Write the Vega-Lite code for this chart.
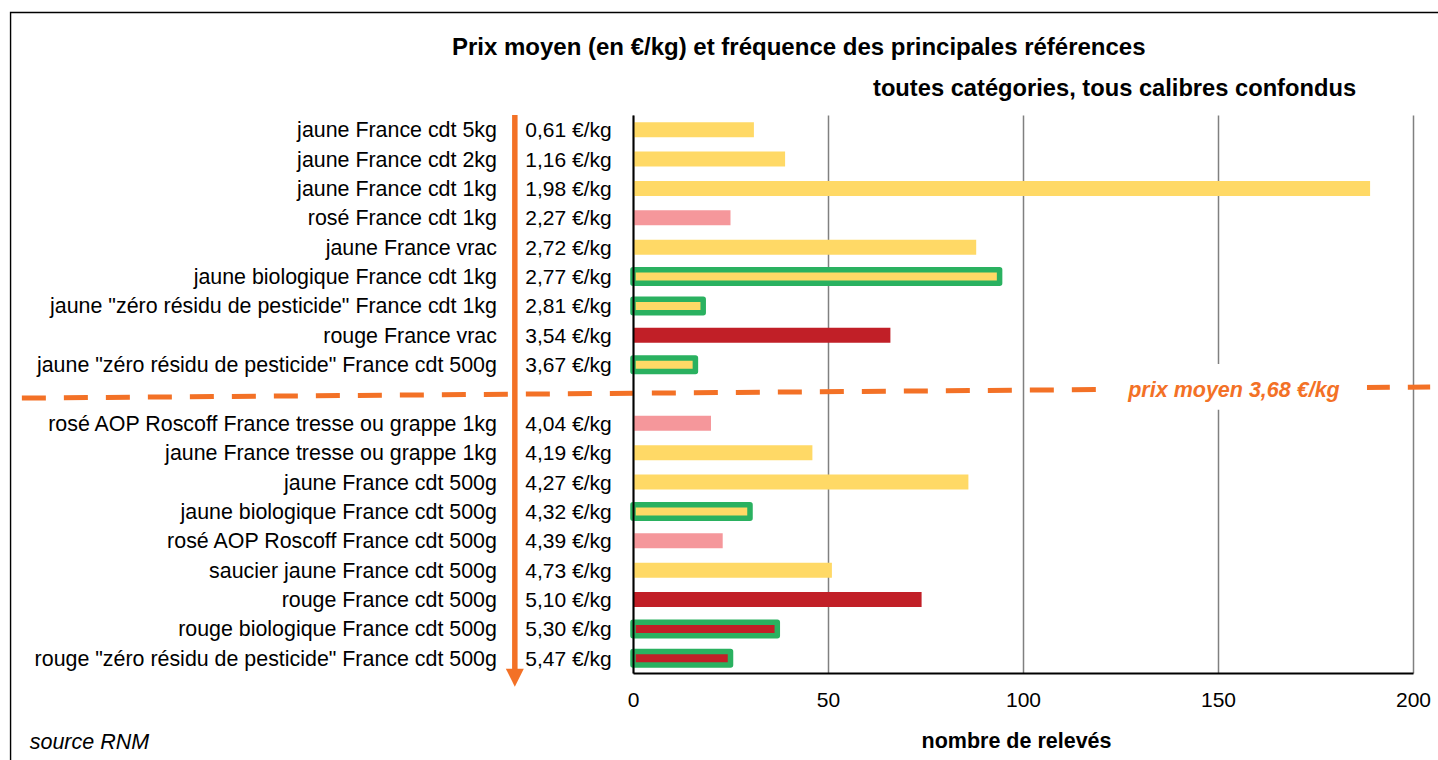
{
  "$schema": "https://vega.github.io/schema/vega-lite/v6.json",
  "autosize": "none",
  "width": 780,
  "height": 558,
  "padding": {"left": 633, "top": 115, "right": 25, "bottom": 87},
  "background": "white",
  "config": {"view": {"stroke": null}, "font": "Liberation Sans"},
  "data": {"values": [
    {"rang": 1, "libelle": "jaune France cdt 5kg", "prix": "0,61 €/kg", "releves": 31, "couleur": "jaune", "label_vert": false},
    {"rang": 2, "libelle": "jaune France cdt 2kg", "prix": "1,16 €/kg", "releves": 39, "couleur": "jaune", "label_vert": false},
    {"rang": 3, "libelle": "jaune France cdt 1kg", "prix": "1,98 €/kg", "releves": 189, "couleur": "jaune", "label_vert": false},
    {"rang": 4, "libelle": "rosé France cdt 1kg", "prix": "2,27 €/kg", "releves": 25, "couleur": "rosé", "label_vert": false},
    {"rang": 5, "libelle": "jaune France vrac", "prix": "2,72 €/kg", "releves": 88, "couleur": "jaune", "label_vert": false},
    {"rang": 6, "libelle": "jaune biologique France cdt 1kg", "prix": "2,77 €/kg", "releves": 94, "couleur": "jaune", "label_vert": true},
    {"rang": 7, "libelle": "jaune \"zéro résidu de pesticide\" France cdt 1kg", "prix": "2,81 €/kg", "releves": 18, "couleur": "jaune", "label_vert": true},
    {"rang": 8, "libelle": "rouge France vrac", "prix": "3,54 €/kg", "releves": 66, "couleur": "rouge", "label_vert": false},
    {"rang": 9, "libelle": "jaune \"zéro résidu de pesticide\" France cdt 500g", "prix": "3,67 €/kg", "releves": 16, "couleur": "jaune", "label_vert": true},
    {"rang": 11, "libelle": "rosé AOP Roscoff France tresse ou grappe 1kg", "prix": "4,04 €/kg", "releves": 20, "couleur": "rosé", "label_vert": false},
    {"rang": 12, "libelle": "jaune France tresse ou grappe 1kg", "prix": "4,19 €/kg", "releves": 46, "couleur": "jaune", "label_vert": false},
    {"rang": 13, "libelle": "jaune France cdt 500g", "prix": "4,27 €/kg", "releves": 86, "couleur": "jaune", "label_vert": false},
    {"rang": 14, "libelle": "jaune biologique France cdt 500g", "prix": "4,32 €/kg", "releves": 30, "couleur": "jaune", "label_vert": true},
    {"rang": 15, "libelle": "rosé AOP Roscoff France cdt 500g", "prix": "4,39 €/kg", "releves": 23, "couleur": "rosé", "label_vert": false},
    {"rang": 16, "libelle": "saucier jaune France cdt 500g", "prix": "4,73 €/kg", "releves": 51, "couleur": "jaune", "label_vert": false},
    {"rang": 17, "libelle": "rouge France cdt 500g", "prix": "5,10 €/kg", "releves": 74, "couleur": "rouge", "label_vert": false},
    {"rang": 18, "libelle": "rouge biologique France cdt 500g", "prix": "5,30 €/kg", "releves": 37, "couleur": "rouge", "label_vert": true},
    {"rang": 19, "libelle": "rouge \"zéro résidu de pesticide\" France cdt 500g", "prix": "5,47 €/kg", "releves": 25, "couleur": "rouge", "label_vert": true}
  ]},
  "layer": [
    {
      "data": {"values": [{}]},
      "mark": {"type": "rect", "fillOpacity": 0, "stroke": "black", "strokeWidth": 1.4, "clip": false},
      "encoding": {
        "x": {"datum": -159.6, "type": "quantitative", "scale": {"domain": [0, 200], "nice": false, "zero": true, "padding": 0},
          "axis": {"values": [0, 50, 100, 150, 200], "grid": true, "gridColor": "#808080", "gridWidth": 1.5,
            "domain": true, "domainColor": "black", "domainWidth": 2, "ticks": false, "tickSize": 0,
            "labelFontSize": 21, "labelColor": "black", "labelPadding": 33, "labelBaseline": "alphabetic",
            "labelFlush": false, "labelOverlap": false, "format": "d",
            "title": "nombre de relevés", "titleFontSize": 21.5, "titleFontWeight": "bold", "titleColor": "black",
            "titleX": 383, "titleY": 74, "titleBaseline": "alphabetic", "titleAnchor": "middle", "zindex": 0}},
        "x2": {"datum": 208.2},
        "y": {"datum": -2.99, "type": "quantitative", "scale": {"domain": [0.5, 19.5], "reverse": true, "nice": false, "zero": false, "padding": 0},
          "axis": {"domain": true, "domainColor": "black", "domainWidth": 2, "labels": false, "ticks": false, "grid": false, "title": null, "zindex": 1}},
        "y2": {"datum": 23}
      }
    },
    {
      "transform": [{"filter": "!datum.label_vert"}],
      "mark": {"type": "bar", "orient": "horizontal", "size": 15},
      "encoding": {
        "x": {"field": "releves", "type": "quantitative"},
        "y": {"field": "rang", "type": "quantitative"},
        "color": {"field": "couleur", "type": "nominal", "scale": {"domain": ["jaune", "rosé", "rouge"], "range": ["#FFD966", "#F5979B", "#C11F27"]}, "legend": null}
      }
    },
    {
      "transform": [{"filter": "datum.label_vert"}],
      "mark": {"type": "bar", "orient": "horizontal", "size": 13.5, "stroke": "#2AB160", "strokeWidth": 5.5, "strokeJoin": "round"},
      "encoding": {
        "x": {"field": "releves", "type": "quantitative"},
        "y": {"field": "rang", "type": "quantitative"},
        "color": {"field": "couleur", "type": "nominal", "legend": null}
      }
    },
    {
      "mark": {"type": "text", "align": "right", "baseline": "alphabetic", "dy": 7.5, "fontSize": 21.4, "color": "black"},
      "encoding": {
        "x": {"datum": -34.9, "type": "quantitative"},
        "y": {"field": "rang", "type": "quantitative"},
        "text": {"field": "libelle"}
      }
    },
    {
      "mark": {"type": "text", "align": "left", "baseline": "alphabetic", "dy": 7.5, "fontSize": 21, "color": "black"},
      "encoding": {
        "x": {"datum": -27.6, "type": "quantitative"},
        "y": {"field": "rang", "type": "quantitative"},
        "text": {"field": "prix"}
      }
    },
    {
      "data": {"values": [{}]},
      "mark": {"type": "rule", "color": "#F37126", "strokeWidth": 5.5},
      "encoding": {
        "x": {"datum": -30.3, "type": "quantitative"},
        "y": {"datum": 0.5, "type": "quantitative"},
        "y2": {"datum": 19.36}
      }
    },
    {
      "data": {"values": [{}]},
      "mark": {"type": "point", "shape": "M-1,-1L1,-1L0,1Z", "size": 324, "filled": true, "opacity": 1, "color": "#F37126", "strokeWidth": 0},
      "encoding": {
        "x": {"datum": -30.3, "type": "quantitative"},
        "y": {"datum": 19.66, "type": "quantitative"}
      }
    },
    {
      "data": {"values": [{}]},
      "mark": {"type": "rule", "color": "#F37126", "strokeWidth": 5, "strokeDash": [24, 18]},
      "encoding": {
        "x": {"datum": -156.7, "type": "quantitative"},
        "x2": {"datum": 204.4},
        "y": {"datum": 10.14, "type": "quantitative"},
        "y2": {"datum": 9.76}
      }
    },
    {
      "data": {"values": [{}]},
      "mark": {"type": "rect", "color": "white"},
      "encoding": {
        "x": {"datum": 119.0, "type": "quantitative"},
        "x2": {"datum": 188.2},
        "y": {"datum": 8.98, "type": "quantitative"},
        "y2": {"datum": 10.54}
      }
    },
    {
      "data": {"values": [{"texte": "prix moyen 3,68 €/kg"}]},
      "mark": {"type": "text", "align": "center", "baseline": "alphabetic", "fontSize": 21.5, "fontWeight": "bold", "fontStyle": "italic", "color": "#F37126"},
      "encoding": {
        "x": {"datum": 154.1, "type": "quantitative"},
        "y": {"datum": 10.10, "type": "quantitative"},
        "text": {"field": "texte"}
      }
    },
    {
      "data": {"values": [{"texte": "Prix moyen (en €/kg) et fréquence des principales références"}]},
      "mark": {"type": "text", "align": "center", "baseline": "alphabetic", "fontSize": 24, "fontWeight": "bold", "color": "black"},
      "encoding": {
        "x": {"datum": 42.5, "type": "quantitative"},
        "y": {"datum": -1.54, "type": "quantitative"},
        "text": {"field": "texte"}
      }
    },
    {
      "data": {"values": [{"texte": "toutes catégories, tous calibres confondus"}]},
      "mark": {"type": "text", "align": "right", "baseline": "alphabetic", "fontSize": 23.7, "fontWeight": "bold", "color": "black"},
      "encoding": {
        "x": {"datum": 185.4, "type": "quantitative"},
        "y": {"datum": -0.15, "type": "quantitative"},
        "text": {"field": "texte"}
      }
    },
    {
      "data": {"values": [{"texte": "source RNM"}]},
      "mark": {"type": "text", "align": "left", "baseline": "alphabetic", "fontSize": 21.5, "fontStyle": "italic", "color": "black"},
      "encoding": {
        "x": {"datum": -154.7, "type": "quantitative"},
        "y": {"datum": 22.09, "type": "quantitative"},
        "text": {"field": "texte"}
      }
    }
  ]
}
